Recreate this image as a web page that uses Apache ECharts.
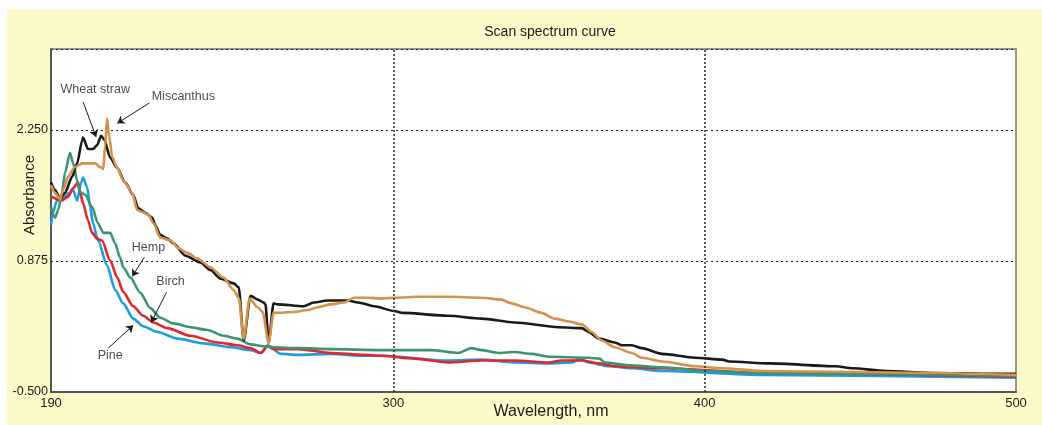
<!DOCTYPE html>
<html><head><meta charset="utf-8">
<script src="https://cdn.jsdelivr.net/npm/echarts@6/dist/echarts.min.js"></script>
<style>html,body{margin:0;padding:0;background:#fff}#c{width:1042px;height:425px}</style>
</head><body><div id="c"></div>
<script>
const titleText = 'Scan spectrum curve';
const xName = 'Wavelength, nm';
const yName = 'Absorbance';
const xTicks = [190, 300, 400, 500];
const yTicks = [-0.5, 0.875, 2.25];
const xGridLines = [300, 400];

const wheatStraw = [[190,1.70],[191.3,1.62],[192.9,1.53],[194.5,1.59],[196.8,1.76],[198.4,1.90],[200.0,2.14],[200.3,2.17],[201.9,2.05],[203.5,2.05],[204.8,2.09],[206.1,2.19],[207.1,2.15],[209.0,1.96],[211.3,1.85],[213.8,1.70],[216.4,1.57],[218.0,1.43],[220.3,1.38],[222.5,1.33],[223.5,1.25],[225.1,1.15],[227.4,1.11],[229.3,1.06],[233.2,0.93],[238.0,0.86],[241.2,0.78],[244.5,0.69],[248.7,0.64],[250.3,0.60],[251.9,0.04],[254.1,0.51],[256.4,0.47],[258.3,0.44],[258.9,0.42],[259.9,0.02],[261.5,0.43],[262.8,0.42],[271.2,0.40],[274.4,0.44],[278.9,0.46],[285.4,0.46],[288.6,0.44],[293.8,0.40],[300.2,0.35],[303.1,0.33],[317.6,0.30],[328.3,0.27],[338.9,0.23],[353.1,0.18],[360.5,0.17],[362.7,0.13],[366.0,0.06],[371.1,0.02],[373.4,-0.01],[376.6,-0.01],[379.8,-0.04],[386.3,-0.10],[396.9,-0.14],[405.6,-0.16],[407.9,-0.18],[420.7,-0.20],[442.0,-0.23],[447.5,-0.25],[458.1,-0.28],[474.2,-0.30],[490.4,-0.31],[500,-0.31]];

const miscanthus = [[190,1.67],[191.3,1.59],[192.9,1.52],[193.9,1.62],[195.5,1.76],[197.7,1.86],[200.0,1.90],[201.9,1.90],[204.2,1.90],[205.8,1.86],[206.8,1.84],[207.4,2.09],[208.0,2.37],[208.7,2.18],[209.7,1.96],[211.3,1.85],[213.2,1.72],[216.1,1.59],[217.7,1.41],[219.3,1.39],[221.3,1.36],[222.9,1.27],[225.1,1.12],[228.4,1.09],[230.9,1.01],[233.8,0.96],[237.1,0.90],[241.2,0.81],[245.4,0.70],[248.7,0.57],[250.3,0.49],[251.9,0.06],[253.8,0.48],[256.4,0.39],[258.0,0.34],[259.9,0.01],[261.5,0.33],[268.0,0.34],[272.5,0.36],[275.7,0.39],[279.9,0.42],[284.1,0.44],[287.3,0.49],[291.8,0.49],[296.0,0.48],[300.2,0.49],[308.9,0.50],[317.6,0.50],[328.3,0.49],[334.7,0.47],[337.9,0.43],[342.1,0.39],[347.6,0.33],[351.8,0.27],[356.3,0.24],[360.5,0.21],[363.7,0.13],[366.9,0.04],[371.1,-0.03],[376.6,-0.09],[379.8,-0.14],[386.3,-0.18],[396.9,-0.23],[405.6,-0.25],[418.5,-0.28],[447.5,-0.29],[500,-0.32]];

const hemp = [[190,1.44],[191.3,1.33],[192.3,1.41],[193.5,1.59],[194.5,1.80],[196.1,2.01],[197.1,1.90],[198.4,1.72],[199.3,1.60],[201.0,1.57],[203.2,1.44],[205.1,1.27],[206.8,1.17],[209.0,1.17],[210.6,1.06],[212.2,0.91],[213.2,0.81],[215.5,0.70],[218.7,0.54],[221.9,0.38],[225.1,0.28],[229.3,0.22],[234.8,0.18],[240.3,0.15],[245.4,0.09],[249.9,0.06],[254.1,0.00],[258.3,-0.02],[261.5,-0.03],[269.3,-0.04],[279.9,-0.05],[296.0,-0.06],[312.1,-0.06],[320.8,-0.09],[325.0,-0.04],[328.3,-0.06],[333.7,-0.09],[338.9,-0.08],[344.4,-0.10],[349.8,-0.13],[362.7,-0.14],[366.3,-0.15],[367.9,-0.19],[375.6,-0.22],[386.3,-0.24],[400.1,-0.28],[418.5,-0.30],[500,-0.33]];

const birch = [[190,1.55],[193.5,1.51],[195.5,1.55],[197.1,1.64],[198.7,1.70],[199.3,1.60],[200.3,1.48],[201.9,1.30],[203.2,1.17],[204.8,1.11],[206.4,1.09],[209.0,0.88],[211.3,0.70],[213.2,0.55],[216.4,0.40],[219.6,0.30],[222.9,0.23],[227.4,0.17],[234.8,0.09],[243.5,0.02],[249.9,-0.01],[254.1,-0.04],[257.4,-0.09],[259.6,-0.02],[261.5,-0.05],[269.3,-0.05],[279.9,-0.09],[290.5,-0.11],[296.0,-0.12],[306.7,-0.15],[317.6,-0.19],[328.3,-0.17],[338.9,-0.17],[349.8,-0.19],[354.0,-0.17],[360.5,-0.17],[366.0,-0.20],[371.1,-0.23],[376.6,-0.24],[386.3,-0.25],[418.5,-0.30],[500,-0.34]];

const pine = [[190,1.25],[190.6,1.38],[191.9,1.51],[193.5,1.53],[196.1,1.59],[197.1,1.62],[198.4,1.51],[199.7,1.70],[200.3,1.75],[201.6,1.65],[202.6,1.44],[203.5,1.27],[205.1,1.09],[208.0,0.83],[210.6,0.57],[213.2,0.43],[216.4,0.27],[219.6,0.19],[224.2,0.13],[230.6,0.06],[239.0,0.01],[247.7,-0.03],[254.1,-0.06],[257.4,-0.09],[259.6,-0.01],[263.8,-0.10],[269.3,-0.11],[279.9,-0.10],[290.5,-0.12],[296.0,-0.12],[317.6,-0.17],[328.3,-0.16],[338.9,-0.19],[349.8,-0.20],[357.3,-0.19],[359.8,-0.15],[362.7,-0.19],[369.2,-0.23],[376.6,-0.25],[386.3,-0.28],[418.5,-0.32],[500,-0.35]];

const annotations = [
  {name:'Wheat straw', text:[204.2,2.67], from:[200.3,2.545], to:[204.5,2.176]},
  {name:'Miscanthus', text:[232.5,2.60], from:[221.6,2.534], to:[211.3,2.32]},
  {name:'Hemp', text:[221.3,1.02], from:[220.0,0.914], to:[216.1,0.714]},
  {name:'Birch', text:[228.4,0.66], from:[227.1,0.546], to:[222.2,0.23]},
  {name:'Pine', text:[209.0,-0.12], from:[208.4,-0.04], to:[216.4,0.20]}
];

const FONT = '"Liberation Sans", Arial, sans-serif';
const chart = echarts.init(document.getElementById('c'), null, {renderer:'canvas'});

function lineSeries(name, data, color) {
  return {name, type:'line', data, showSymbol:false, symbol:'none', z:3,
    smooth:0.25, smoothMonotone:'x',
    lineStyle:{color, width:2.6, join:'round'}, itemStyle:{color}, animation:false, silent:true};
}

chart.setOption({
  animation:false,
  backgroundColor:'#ffffff',
  graphic:[
    {type:'rect', shape:{x:7, y:9, width:1035, height:416}, style:{fill:'#fef9c8'}, z:-10, silent:true},
    {type:'text', x:550, y:32, style:{text:titleText, font:'14px ' + FONT, fill:'#1a1a1a', textAlign:'center', textVerticalAlign:'middle'}, z:10},
    {type:'text', x:551, y:412, style:{text:xName, font:'16px ' + FONT, fill:'#1a1a1a', textAlign:'center', textVerticalAlign:'middle'}, z:10},
    {type:'text', x:30, y:195, rotation:Math.PI/2, style:{text:yName, font:'15px ' + FONT, fill:'#1a1a1a', textAlign:'center', textVerticalAlign:'middle'}, z:10}
  ],
  grid:{left:51, top:49, right:26, bottom:33, show:true, backgroundColor:'#ffffff', borderColor:'#777', borderWidth:1.5},
  xAxis:{type:'value', min:190, max:500,
    axisLine:{show:true, onZero:false, lineStyle:{color:'#555', width:2}},
    axisTick:{show:false},
    splitLine:{show:false},
    axisLabel:{customValues:xTicks, margin:5, fontSize:13, color:'#1a1a1a', fontFamily:FONT, formatter:v=>String(v)}
  },
  yAxis:{type:'value', min:-0.5, max:3.1, interval:1.375,
    axisLine:{show:true, onZero:false, lineStyle:{color:'#555', width:2}},
    axisTick:{show:false},
    splitLine:{show:true, lineStyle:{color:'#222', width:1, type:[2,3]}},
    axisLabel:{showMaxLabel:false, margin:3, fontSize:12.5, color:'#1a1a1a', fontFamily:FONT,
      formatter:v=> yTicks.some(t=>Math.abs(t-v)<1e-6) ? v.toFixed(3) : ''}
  },
  series:[
    {type:'line', data:[], z:1, silent:true, symbol:'none',
      markLine:{silent:true, symbol:['none','none'], label:{show:false},
        lineStyle:{color:'#333', width:1.6, type:[2,2]},
        data:xGridLines.map(v=>({xAxis:v}))}},
    lineSeries('Pine', pine, '#1e9ce0'),
    lineSeries('Birch', birch, '#e3262a'),
    lineSeries('Hemp', hemp, '#3d9470'),
    lineSeries('Wheat straw', wheatStraw, '#1a1a1a'),
    lineSeries('Miscanthus', miscanthus, '#d4934c'),
    {type:'scatter', z:5, silent:true, symbolSize:0,
      data:annotations.map(a=>({name:a.name, value:a.text})),
      label:{show:true, position:'inside', formatter:'{b}', color:'#1a1a1a', fontSize:12.5, fontFamily:FONT},
      markLine:{silent:true, symbol:['none','arrow'], symbolSize:7, label:{show:false},
        lineStyle:{color:'#1a1a1a', width:1, type:'solid'},
        data:annotations.map(a=>[{coord:a.from},{coord:a.to}])}
    }
  ]
});
</script></body></html>
